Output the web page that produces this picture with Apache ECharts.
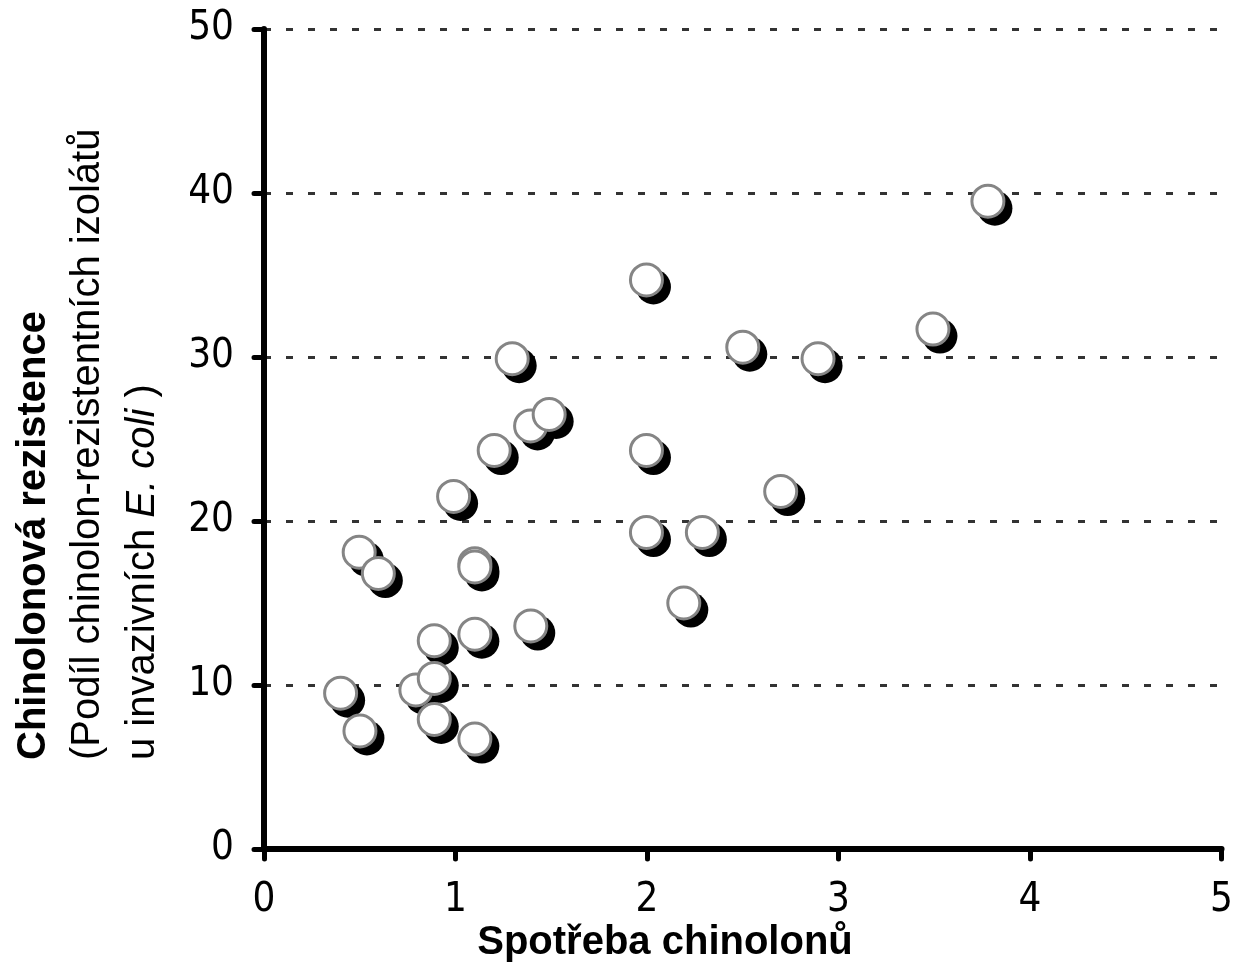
<!DOCTYPE html>
<html>
<head>
<meta charset="utf-8">
<script src="https://cdn.jsdelivr.net/npm/echarts@6/dist/echarts.min.js"></script>
<style>
html,body{margin:0;padding:0;background:#fff;}
#chart{width:1236px;height:968px;}
</style>
</head>
<body>
<div id="chart"></div>
<script>
// Spotřeba chinolonů (x) vs. chinolonová rezistence (%) (y)
const consumption = [0.497, 0.597, 1.101, 1.101, 0.889, 1.101, 1.393, 0.400, 0.793, 0.889, 0.501, 0.889, 1.101,
                     1.997, 2.500, 2.893, 1.997, 2.698, 1.997, 2.289, 2.192,
                     1.296, 1.392, 1.489, 1.202, 0.990, 3.780, 3.493];
const resistance  = [18.1, 16.8, 17.4, 17.2, 12.7, 13.1, 13.6, 9.5, 9.7, 10.4, 7.2, 7.9, 6.7,
                     34.7, 30.6, 29.9, 24.3, 21.8, 19.3, 19.3, 15.0,
                     29.9, 25.8, 26.5, 24.3, 21.5, 39.5, 31.7];
const xTicks = [0, 1, 2, 3, 4, 5];
const yTicks = [0, 10, 20, 30, 40, 50];
const xTitle = 'Spotřeba chinolonů';
const yTitle1 = 'Chinolonová rezistence';
const yTitle2 = '(Podíl chinolon-rezistentních izolátů';
const yTitle3a = 'u invazivních ';
const yTitle3b = 'E. coli';
const yTitle3c = ' )';

const points = consumption.map((x, i) => [x, resistance[i]]);
const tickFont = '"DejaVu Sans Condensed", "DejaVu Sans", sans-serif';
const titleFont = '"Liberation Sans", Arial, sans-serif';

const chart = echarts.init(document.getElementById('chart'), null, {renderer: 'canvas'});
chart.setOption({
  animation: false,
  backgroundColor: '#ffffff',
  grid: {left: 264, right: 14, top: 29, bottom: 119, containLabel: false},
  xAxis: {
    type: 'value', min: xTicks[0], max: xTicks[xTicks.length - 1], interval: 1,
    axisLine: {show: true, onZero: false, lineStyle: {color: '#000', width: 6, cap: 'round'}},
    axisTick: {show: true, inside: false, length: 10, lineStyle: {color: '#000', width: 5, cap: 'round'}},
    axisLabel: {margin: 32, color: '#000', fontSize: 40, fontFamily: tickFont},
    splitLine: {show: false}
  },
  yAxis: {
    type: 'value', min: yTicks[0], max: yTicks[yTicks.length - 1], interval: 10,
    axisLine: {show: true, onZero: false, lineStyle: {color: '#000', width: 6, cap: 'round'}},
    axisTick: {show: true, inside: false, length: 10, lineStyle: {color: '#000', width: 5, cap: 'round'}},
    axisLabel: {margin: 30, color: '#000', fontSize: 40, fontFamily: tickFont},
    splitLine: {show: true, lineStyle: {color: '#333', width: 3, type: [7, 15]}}
  },
  series: [
    {
      type: 'scatter', data: points, symbol: 'circle', symbolSize: 35,
      symbolOffset: [7, 7], silent: true, z: 2,
      itemStyle: {color: '#000', opacity: 1}
    },
    {
      type: 'scatter', data: points, symbol: 'circle', symbolSize: 32, z: 3,
      itemStyle: {color: '#fff', borderColor: '#858585', borderWidth: 3, opacity: 1}
    }
  ],
  graphic: [
    {type: 'text', x: 34, y: 760, rotation: Math.PI / 2,
     style: {text: yTitle1, font: 'bold 40px ' + titleFont, fill: '#000', textAlign: 'left', textVerticalAlign: 'middle'}},
    {type: 'text', x: 88, y: 760, rotation: Math.PI / 2,
     style: {text: yTitle2, font: '40px ' + titleFont, fill: '#000', textAlign: 'left', textVerticalAlign: 'middle'}},
    {type: 'text', x: 143, y: 760, rotation: Math.PI / 2,
     style: {
       text: '{a|' + yTitle3a + '}{i|' + yTitle3b + '}{a|' + yTitle3c + '}',
       textAlign: 'left', textVerticalAlign: 'middle',
       rich: {
         a: {fontSize: 40, fontFamily: titleFont, fill: '#000', color: '#000'},
         i: {fontSize: 40, fontFamily: titleFont, fontStyle: 'italic', fill: '#000', color: '#000'}
       }
     }},
    {type: 'text', x: 665, y: 943,
     style: {text: xTitle, font: 'bold 40px ' + titleFont, fill: '#000', textAlign: 'center', textVerticalAlign: 'middle'}}
  ]
});
</script>
</body>
</html>
